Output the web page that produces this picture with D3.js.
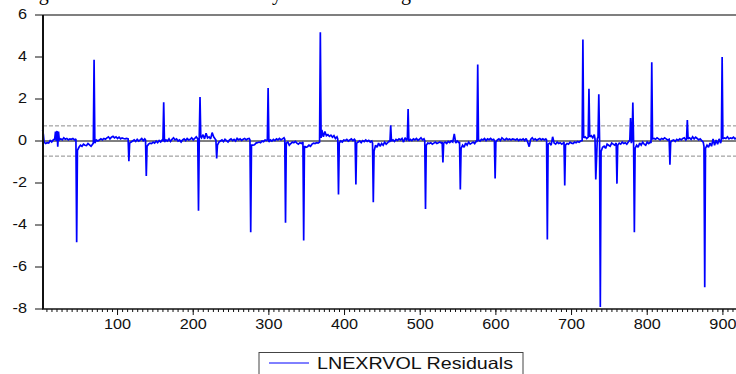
<!DOCTYPE html>
<html>
<head>
<meta charset="utf-8">
<script src="https://cdn.jsdelivr.net/npm/d3@7"></script>
<style>
  html, body { margin: 0; padding: 0; background: #fff; overflow: hidden; }
  svg { display: block; }
</style>
</head>
<body>
<div id="chart"></div>
<script>
const residuals = [
  [1,0.53],[2,0.3],[3,-0.05],[5,-0.12],[7,-0.08],[9,-0.1],[11,0.02],[13,-0.05],[15,0.05],[17,0.1],
  [18,0.45],[19,0.0],[20,0.48],[21,-0.27],[22,0.45],[23,0.05],[25,0.1],[27,0.05],[29,0.15],[31,0.08],
  [33,0.12],[35,0.05],[37,0.1],[39,0.08],[41,0.12],[43,0.05],[45,0.1],
  [46,-4.82],
  [47,-0.45],[49,-0.3],[51,-0.2],[53,-0.25],[55,-0.15],[57,-0.2],[59,-0.22],[61,-0.12],[63,-0.18],
  [65,-0.25],[67,-0.15],[68,-0.1],
  [69,3.87],
  [70,-0.1],[72,0.05],[74,0.0],[76,0.05],[78,0.1],[80,0.05],[82,0.12],[84,0.08],[86,0.15],[88,0.2],
  [90,0.1],[92,0.18],[94,0.22],[96,0.15],[98,0.2],[100,0.12],[102,0.18],[104,0.1],[106,0.15],
  [108,0.12],[110,0.1],[112,0.12],[114,0.1],
  [115,-0.96],
  [116,-0.1],[118,-0.05],[120,0.0],[122,0.05],[124,-0.02],[126,0.08],[128,0.0],[130,0.05],[132,0.12],
  [134,0.02],[136,0.1],[137,0.05],
  [138,-1.66],
  [139,-0.25],[141,-0.15],[143,-0.1],[145,-0.12],[147,-0.05],[149,-0.1],[151,0.0],[153,-0.08],
  [155,0.02],[157,-0.05],[159,0.05],[160,0.0],
  [161,1.85],
  [162,-0.05],[164,0.05],[166,0.0],[168,0.1],[170,-0.02],[172,0.08],[174,0.15],[176,0.05],[178,0.1],
  [180,0.0],[182,0.05],[184,-0.05],[186,0.05],[188,0.1],[190,0.02],[192,0.12],[194,0.05],[196,0.08],
  [198,0.15],[200,0.05],[202,0.12],[204,0.2],[206,0.1],
  [207,-3.32],[208,0.15],[209,2.09],
  [210,0.2],[211,0.15],[213,0.3],[215,0.1],[217,0.37],[219,0.15],[221,0.2],[223,0.1],[225,0.4],
  [227,0.2],[229,0.1],[230,0.05],
  [231,-0.83],
  [232,-0.2],[234,-0.05],[236,0.0],[238,0.05],[240,-0.03],[242,0.08],[244,0.02],[246,-0.05],[248,0.05],
  [250,0.1],[252,0.02],[254,0.08],[256,0.0],[258,0.12],[260,0.05],[262,0.1],[264,0.03],[266,0.08],
  [268,0.12],[270,0.05],[272,0.1],[274,0.12],[275,0.05],
  [276,-4.34],
  [277,-0.19],[279,-0.2],[281,-0.18],[283,-0.1],[285,-0.08],[287,-0.05],[289,-0.08],[291,0.0],
  [293,-0.03],[295,0.05],[297,0.02],[298,0.05],
  [299,2.52],
  [300,-0.05],[302,0.05],[304,0.0],[306,0.08],[308,0.02],[310,0.1],[312,0.05],[314,0.12],[316,0.05],
  [318,0.1],[320,0.15],[321,0.08],
  [322,-3.89],
  [323,-0.1],[325,-0.05],[327,-0.2],[329,-0.12],[331,-0.05],[333,-0.08],[335,-0.02],[337,-0.1],
  [339,-0.15],[341,-0.08],[343,-0.12],[345,-0.05],
  [346,-4.74],
  [347,-0.25],[349,-0.3],[351,-0.27],[353,-0.2],[355,-0.25],[357,-0.15],[359,-0.1],[361,-0.12],
  [363,-0.08],[365,-0.1],[367,-0.05],
  [368,5.18],
  [369,0.15],[370,0.53],[372,0.2],[374,0.45],[376,0.25],[378,0.3],[380,0.22],[382,0.28],[384,0.18],
  [386,0.25],[388,0.12],[390,0.2],[391,0.1],
  [392,-2.55],
  [393,-0.1],[395,0.0],[397,-0.05],[399,0.05],[401,0.02],[403,0.08],[405,0.0],[407,0.05],[409,0.1],
  [411,0.02],[413,0.08],[414,0.03],
  [415,-2.07],
  [416,-0.1],[418,-0.05],[420,0.0],[422,-0.08],[424,0.02],[426,-0.03],[428,0.05],[430,-0.02],
  [432,0.03],[434,-0.05],[436,0.0],[437,-0.1],
  [438,-2.92],
  [439,-0.48],[441,-0.2],[443,-0.3],[445,-0.1],[447,-0.25],[449,-0.12],[451,-0.2],[453,-0.05],
  [455,-0.15],[457,-0.08],[459,0.0],[460,-0.05],
  [461,0.75],
  [462,0.0],[464,0.05],[466,-0.02],[468,0.08],[470,0.03],[472,0.1],[474,0.05],[476,0.12],[478,-0.05],
  [480,0.15],[482,0.05],[483,0.1],
  [484,1.52],
  [485,0.0],[487,0.08],[489,0.02],[491,0.1],[493,0.05],[495,0.12],[497,0.03],[499,0.08],[501,0.15],
  [503,0.05],[505,0.1],[506,0.02],
  [507,-3.24],
  [508,-0.2],[510,-0.1],[512,-0.12],[514,-0.08],[516,-0.15],[518,-0.1],[520,-0.05],[522,-0.12],
  [524,-0.08],[526,-0.05],[528,-0.1],[529,-0.05],
  [530,-1.02],
  [531,-0.1],[533,-0.05],[535,-0.12],[537,-0.02],[539,-0.08],[541,0.0],[543,-0.05],[545,0.34],
  [547,-0.1],[549,0.0],[551,-0.08],[552,-0.05],
  [553,-2.31],
  [554,-0.35],[556,-0.2],[558,-0.3],[560,-0.1],[562,-0.2],[564,-0.05],[566,-0.15],[568,-0.1],
  [570,-0.05],[572,-0.12],[574,0.0],[575,-0.05],
  [576,3.64],
  [577,0.05],[579,0.0],[581,0.08],[583,0.05],[585,0.12],[587,0.02],[589,0.1],[591,0.06],[593,0.12],
  [595,0.05],[597,0.08],[598,0.02],
  [599,-1.79],
  [600,-0.05],[602,0.05],[604,0.1],[606,0.02],[608,0.15],[610,0.08],[612,0.05],[614,0.12],[616,0.06],
  [618,0.1],[620,0.05],[622,0.1],[624,0.08],[626,0.05],[628,0.1],[630,0.02],[632,0.08],[634,0.05],
  [636,0.1],[638,0.02],[640,0.12],[642,-0.05],[644,-0.27],[646,0.08],[648,0.15],[650,0.05],[652,0.1],
  [654,0.03],[656,0.08],[658,0.12],[660,0.05],[662,0.1],[664,0.05],[666,0.1],[667,0.05],
  [668,-4.69],
  [669,-0.15],[671,-0.1],[673,-0.2],[675,0.2],[677,-0.1],[679,-0.15],[681,-0.05],[683,-0.12],
  [685,-0.08],[687,-0.15],[689,-0.1],[690,-0.05],
  [691,-2.12],
  [692,-0.2],[694,-0.12],[696,-0.15],[698,-0.05],[700,-0.1],[702,-0.12],[704,-0.05],[706,-0.08],
  [708,-0.02],[710,-0.06],[712,0.0],[714,0.02],
  [715,4.83],
  [716,0.15],[718,0.2],[720,0.12],[722,0.18],
  [723,2.49],
  [724,0.2],[726,0.25],[728,0.15],[730,0.3],[731,0.1],
  [732,-1.83],
  [734,0.1],[735,0.2],
  [736,2.23],[737,0.1],[738,-7.9],
  [739,-0.5],[741,-0.3],[743,-0.25],[745,-0.35],[747,-0.15],[749,-0.2],[751,-0.25],[753,-0.1],
  [755,-0.15],[757,-0.2],[759,-0.1],
  [760,-2.03],
  [761,-0.2],[763,-0.1],[765,-0.15],[767,-0.05],[769,-0.12],[771,-0.08],[773,-0.15],[775,-0.05],
  [777,0.05],
  [778,1.09],[779,-0.1],[780,0.1],[781,1.83],[782,-0.1],[783,-4.34],
  [784,-0.35],[786,-0.2],[788,-0.3],[790,-0.1],[792,-0.2],[794,-0.05],[796,-0.15],[798,-0.2],
  [800,-0.05],[802,-0.12],[804,-0.05],[805,-0.1],
  [806,3.75],
  [807,0.1],[809,0.12],[811,0.08],[813,0.15],[815,0.1],[817,0.05],[819,0.12],[821,0.08],[823,0.15],
  [825,0.1],[827,0.05],[829,0.08],
  [830,-1.13],
  [831,-0.05],[833,0.02],[835,0.05],[837,-0.02],[839,0.08],[841,0.03],[843,0.1],[845,0.05],[847,0.12],
  [849,0.15],[851,0.05],[852,0.1],
  [853,1.0],
  [854,0.1],[856,0.15],[858,0.08],[860,0.2],[862,0.1],[864,0.18],[866,0.12],[868,0.05],[870,0.1],
  [872,0.02],[874,-0.05],[875,-0.25],
  [876,-6.97],
  [877,-0.35],[879,-0.2],[881,-0.3],[883,-0.1],[885,-0.25],[887,0.1],[889,-0.2],[891,0.05],[893,-0.15],
  [895,0.1],[897,-0.1],[898,0.05],
  [899,4.0],
  [900,0.1],[902,0.15],[904,0.12],[906,0.2],[908,0.1],[910,0.15],[912,0.12],[914,0.18],[916,0.1],
  [918,0.15],[920,0.12],[922,0.1],[924,0.15]
];

const yTicks = [-8, -6, -4, -2, 0, 2, 4, 6];
const xTicks = [100, 200, 300, 400, 500, 600, 700, 800, 900];
const bandLevel = 0.72;   // dashed +/- band
const legendLabel = "LNEXRVOL Residuals";
const titleText = "Figure 3: Residuals of Volatility of the Exchange Rate";

const W = 736, H = 374;
const plotLeft = 43, plotTop = 15, plotBottom = 309;

const svg = d3.select("#chart").append("svg")
  .attr("width", W)
  .attr("height", H);

// title (only descenders show above the frame)
svg.append("text")
  .attr("x", 22)
  .attr("y", 0)
  .attr("font-family", "Liberation Serif, Times New Roman, serif")
  .attr("font-size", "20px")
  .attr("word-spacing", "1px")
  .attr("fill", "#000")
  .text(titleText);

const x = d3.scaleLinear().domain([1.5, 930]).range([plotLeft, plotLeft + 928.5 * 0.7567]);
const y = d3.scaleLinear().domain([-8, 6]).range([plotBottom, plotTop]);
const plotRight = x(930);

// top frame
svg.append("line")
  .attr("x1", plotLeft).attr("x2", plotRight)
  .attr("y1", plotTop).attr("y2", plotTop)
  .attr("stroke", "#555").attr("stroke-width", 1.5);

// band lines
[bandLevel, -bandLevel].forEach(v => {
  svg.append("line")
    .attr("x1", plotLeft).attr("x2", plotRight)
    .attr("y1", y(v)).attr("y2", y(v))
    .attr("stroke", "#8c8c8c").attr("stroke-width", 1)
    .attr("stroke-dasharray", "4,2");
});

// zero line
svg.append("line")
  .attr("x1", plotLeft).attr("x2", plotRight)
  .attr("y1", y(0)).attr("y2", y(0))
  .attr("stroke", "#000").attr("stroke-width", 1);

// series
const line = d3.line()
  .x(d => x(d[0]))
  .y(d => y(d[1]));

svg.append("path")
  .datum(residuals)
  .attr("fill", "none")
  .attr("stroke", "#0000ff")
  .attr("stroke-width", 1.7)
  .attr("stroke-linejoin", "miter")
  .attr("stroke-miterlimit", 2)
  .attr("d", line);

// y axis
const yAxis = svg.append("g");
yAxis.append("line")
  .attr("x1", plotLeft).attr("x2", plotLeft)
  .attr("y1", plotTop).attr("y2", plotBottom)
  .attr("stroke", "#111").attr("stroke-width", 2);
yTicks.forEach(t => {
  yAxis.append("line")
    .attr("x1", plotLeft - 8).attr("x2", plotLeft)
    .attr("y1", y(t)).attr("y2", y(t))
    .attr("stroke", "#111").attr("stroke-width", 1);
  yAxis.append("g")
    .attr("transform", `translate(27,${y(t) + 4}) scale(1.12,1)`)
    .append("text")
    .attr("text-anchor", "end")
    .attr("font-family", "Liberation Sans, Arial, sans-serif")
    .attr("font-size", "14.5px")
    .attr("fill", "#111")
    .text(t);
});

// x axis
const xAxis = svg.append("g");
xAxis.append("line")
  .attr("x1", plotLeft - 1).attr("x2", plotRight)
  .attr("y1", plotBottom).attr("y2", plotBottom)
  .attr("stroke", "#111").attr("stroke-width", 1.5);

const minor = d3.range(-15, 150).map(i => 100 + i * 100 / 15)
  .filter(v => x(v) > plotLeft + 3 && x(v) < W + 5);
minor.forEach(v => {
  xAxis.append("line")
    .attr("x1", x(v)).attr("x2", x(v))
    .attr("y1", plotBottom).attr("y2", plotBottom + 3)
    .attr("stroke", "#111").attr("stroke-width", 1);
});
xTicks.forEach(t => {
  xAxis.append("line")
    .attr("x1", x(t)).attr("x2", x(t))
    .attr("y1", plotBottom).attr("y2", plotBottom + 6)
    .attr("stroke", "#111").attr("stroke-width", 1);
  xAxis.append("g")
    .attr("transform", `translate(${x(t)},328.5) scale(1.12,1)`)
    .append("text")
    .attr("text-anchor", "middle")
    .attr("font-family", "Liberation Sans, Arial, sans-serif")
    .attr("font-size", "14.5px")
    .attr("fill", "#111")
    .text(t);
});

// legend
const lg = svg.append("g");
lg.append("rect")
  .attr("x", 259).attr("y", 352.5)
  .attr("width", 264).attr("height", 30)
  .attr("fill", "#fff")
  .attr("stroke", "#444").attr("stroke-width", 1);
lg.append("line")
  .attr("x1", 269).attr("x2", 309)
  .attr("y1", 363).attr("y2", 363)
  .attr("stroke", "#0000ff").attr("stroke-width", 1);
lg.append("text")
  .attr("x", 317).attr("y", 369)
  .attr("font-family", "Liberation Sans, Arial, sans-serif")
  .attr("font-size", "16.5px")
  .attr("fill", "#111")
  .attr("textLength", 196)
  .attr("lengthAdjust", "spacingAndGlyphs")
  .text(legendLabel);
</script>
</body>
</html>
